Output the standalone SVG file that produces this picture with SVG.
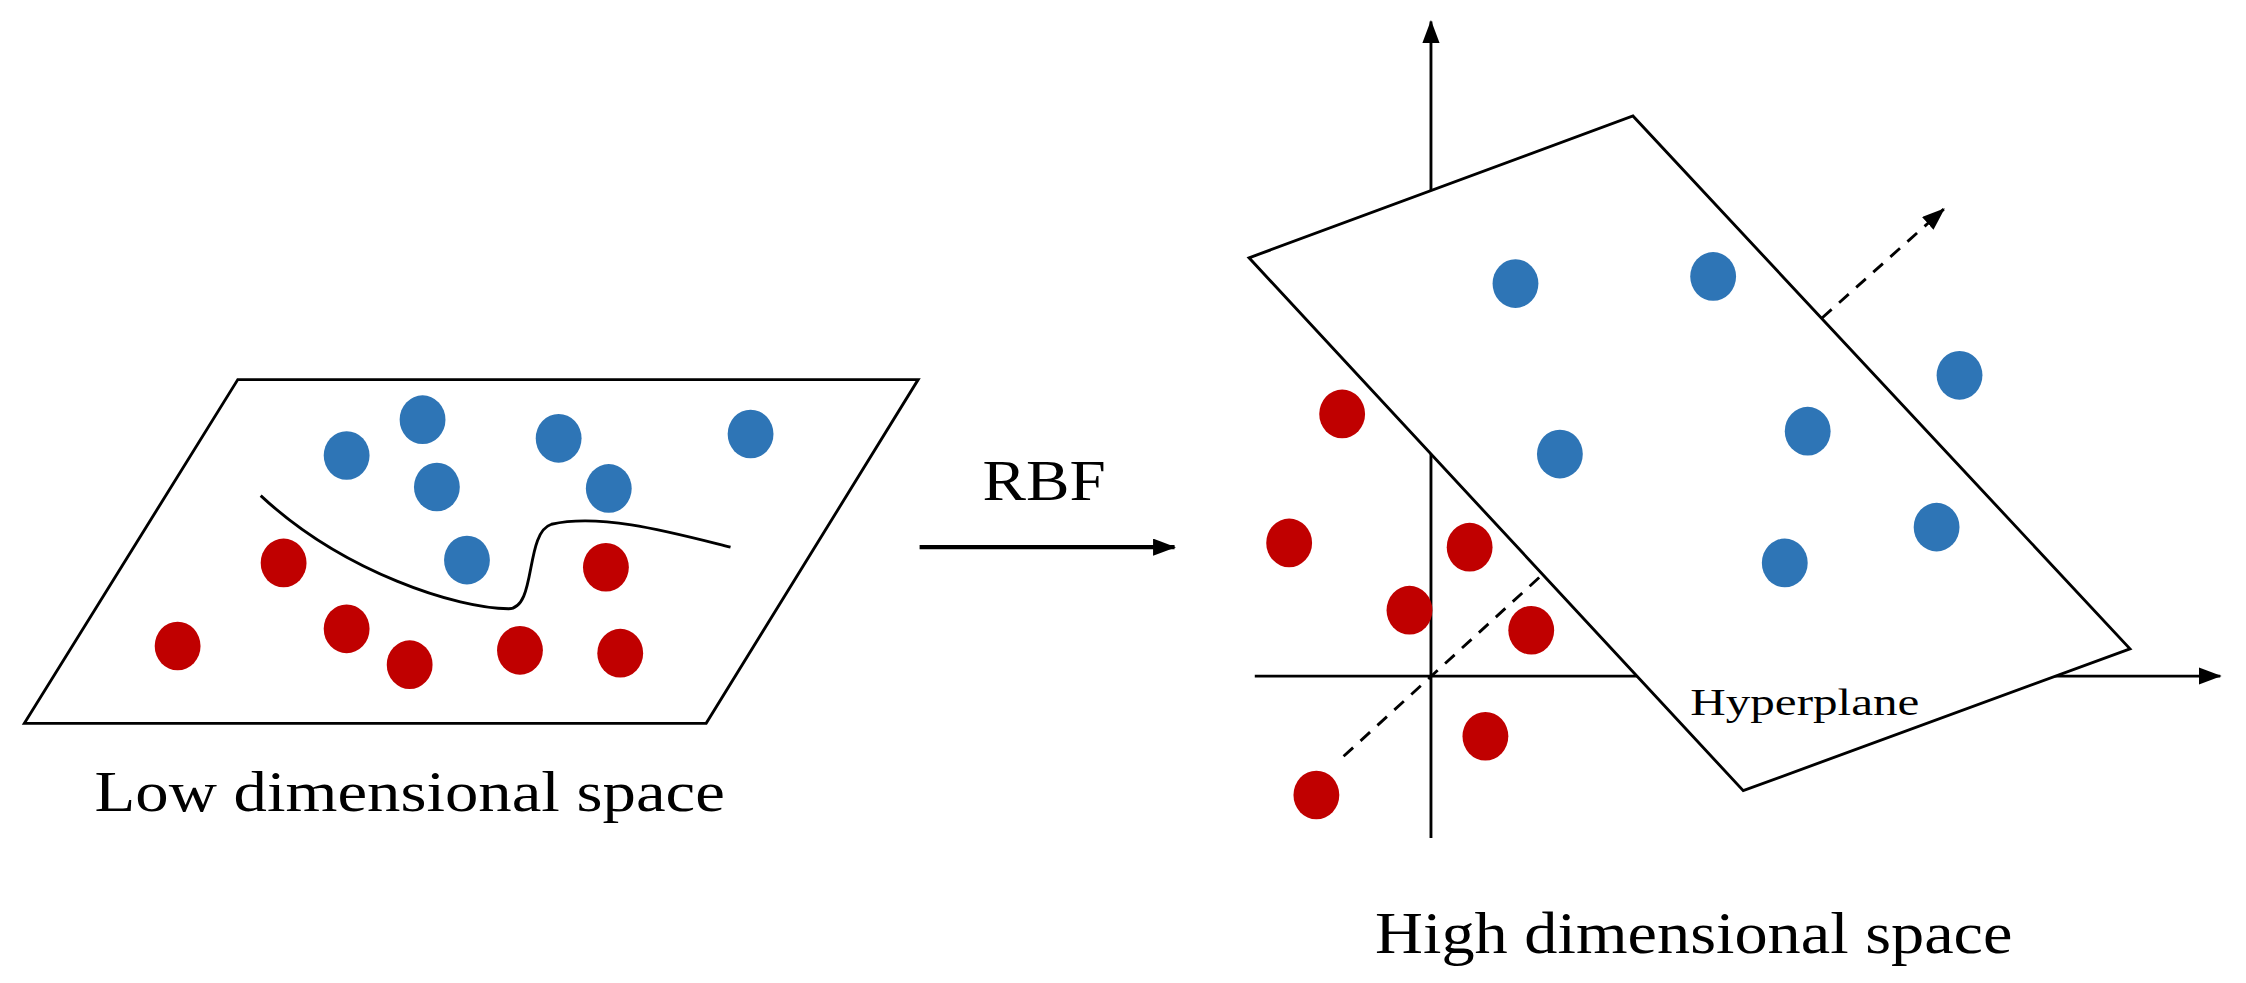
<svg xmlns="http://www.w3.org/2000/svg" width="2246" height="983" viewBox="0 0 2246 983">
<defs>
<style>
.b{fill:#2e75b6}.r{fill:#c00000}
.ln{stroke:#000;stroke-width:2;fill:none}
.t{font-family:"Liberation Serif",serif;fill:#000}
</style>
<marker id="ah2" markerWidth="16" markerHeight="12" refX="15" refY="6" orient="auto" markerUnits="userSpaceOnUse"><path d="M0,0L16,6L0,12z" fill="#000"/></marker>
</defs>
<rect width="2246" height="983" fill="#fff"/>
<g transform="scale(1.4324)">
<g id="low-space">
<polygon class="ln" points="166,265 641,265 493,505 17,505"/>
<path class="ln" d="M182,346 C240,400 320,425 355,425 C375,425 366,372 385,366 C420,358 470,372 510,382" stroke-width="2.5"/>
<ellipse class="b" cx="242" cy="318" rx="16" ry="17"/><ellipse class="b" cx="295" cy="293" rx="16" ry="17"/><ellipse class="b" cx="390" cy="306" rx="16" ry="17"/><ellipse class="b" cx="524" cy="303" rx="16" ry="17"/><ellipse class="b" cx="305" cy="340" rx="16" ry="17"/><ellipse class="b" cx="425" cy="341" rx="16" ry="17"/><ellipse class="b" cx="326" cy="391" rx="16" ry="17"/>
<ellipse class="r" cx="198" cy="393" rx="16" ry="17"/><ellipse class="r" cx="423" cy="396" rx="16" ry="17"/><ellipse class="r" cx="124" cy="451" rx="16" ry="17"/><ellipse class="r" cx="242" cy="439" rx="16" ry="17"/><ellipse class="r" cx="286" cy="464" rx="16" ry="17"/><ellipse class="r" cx="363" cy="454" rx="16" ry="17"/><ellipse class="r" cx="433" cy="456" rx="16" ry="17"/>
<text class="t" x="66" y="566" font-size="40" textLength="440" lengthAdjust="spacingAndGlyphs">Low dimensional space</text>
</g>
<g id="connectors">
<line x1="642" y1="382" x2="820" y2="382" stroke="#000" stroke-width="3" marker-end="url(#ah2)"/>
<text class="t" x="686" y="349" font-size="40" textLength="86" lengthAdjust="spacingAndGlyphs">RBF</text>
<line x1="999" y1="585" x2="999" y2="15" stroke="#000" stroke-width="2" marker-end="url(#ah2)"/>
<line x1="876" y1="472" x2="1550" y2="472" stroke="#000" stroke-width="2" marker-end="url(#ah2)"/>
<line x1="938" y1="528" x2="1078" y2="400" stroke="#000" stroke-width="2" stroke-dasharray="9,7"/>
</g>
<g id="high-space">
<polygon points="872,180 1140,81 1487,453 1217,552" fill="#fff" stroke="#000" stroke-width="2"/>
<line x1="1272" y1="222" x2="1357" y2="146" stroke="#000" stroke-width="2" stroke-dasharray="9,7" marker-end="url(#ah2)"/>
<ellipse class="b" cx="1058" cy="198" rx="16" ry="17"/><ellipse class="b" cx="1196" cy="193" rx="16" ry="17"/><ellipse class="b" cx="1368" cy="262" rx="16" ry="17"/><ellipse class="b" cx="1089" cy="317" rx="16" ry="17"/><ellipse class="b" cx="1262" cy="301" rx="16" ry="17"/><ellipse class="b" cx="1352" cy="368" rx="16" ry="17"/><ellipse class="b" cx="1246" cy="393" rx="16" ry="17"/>
<ellipse class="r" cx="937" cy="289" rx="16" ry="17"/><ellipse class="r" cx="900" cy="379" rx="16" ry="17"/><ellipse class="r" cx="1026" cy="382" rx="16" ry="17"/><ellipse class="r" cx="984" cy="426" rx="16" ry="17"/><ellipse class="r" cx="1069" cy="440" rx="16" ry="17"/><ellipse class="r" cx="1037" cy="514" rx="16" ry="17"/><ellipse class="r" cx="919" cy="555" rx="16" ry="17"/>
<text class="t" x="1180" y="499" font-size="26" textLength="160" lengthAdjust="spacingAndGlyphs">Hyperplane</text>
<text class="t" x="960" y="665" font-size="42" textLength="445" lengthAdjust="spacingAndGlyphs">High dimensional space</text>
</g>
</g>
</svg>
